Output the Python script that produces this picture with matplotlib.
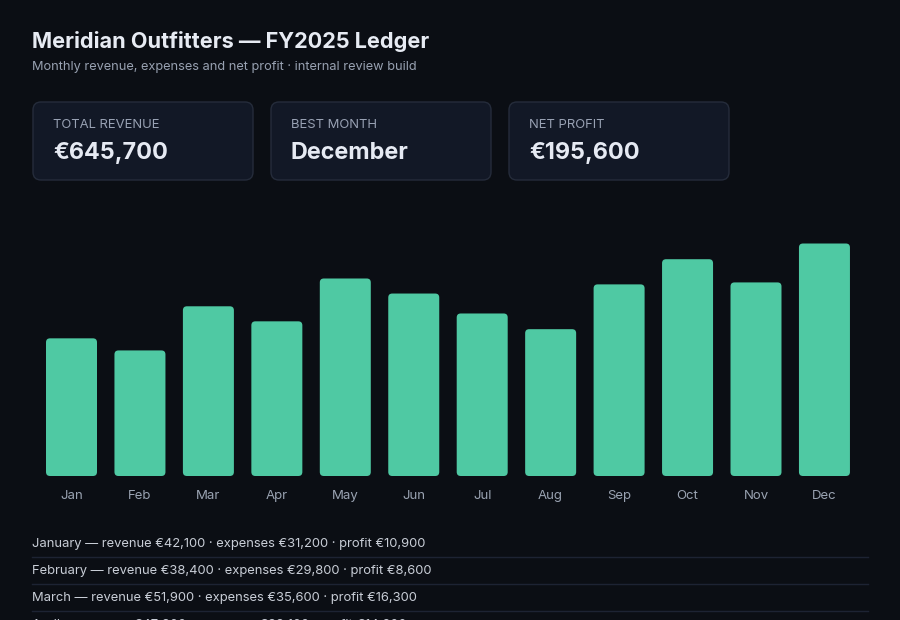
import matplotlib
matplotlib.use("Agg")
import matplotlib.pyplot as plt
from matplotlib.patches import FancyBboxPatch
from matplotlib.transforms import offset_copy

# ---------------- data ----------------
months_short = ["Jan", "Feb", "Mar", "Apr", "May", "Jun",
                "Jul", "Aug", "Sep", "Oct", "Nov", "Dec"]
months_long = ["January", "February", "March", "April", "May", "June",
               "July", "August", "September", "October", "November", "December"]
revenue = [42100, 38400, 51900, 47300, 60400, 55800,
           49700, 44900, 58600, 66300, 59200, 71100]
expenses = [31200, 29800, 35600, 33100, 41200, 39400,
            36000, 33500, 40800, 44700, 41300, 43500]
card_labels = ["TOTAL REVENUE", "BEST MONTH", "NET PROFIT"]

title = "Meridian Outfitters \u2014 FY2025 Ledger"
subtitle = "Monthly revenue, expenses and net profit \u00b7 internal review build"

# ---------------- style ----------------
BG = "#0b0e14"
CARD_BG = "#121826"
CARD_EDGE = "#252c3b"
TITLE_C = "#e7ebf3"
SUB_C = "#98a1b1"
LABEL_C = "#98a1b3"
VALUE_C = "#e6eaf3"
BAR_C = "#4fc9a3"
TICK_C = "#9aa3b2"
ROW_C = "#c8cdd6"
SEP_C = "#1d2333"
FONT = ["Inter", "DejaVu Sans"]

W, H = 900, 620
fig = plt.figure(figsize=(W / 100, H / 100), dpi=100, facecolor=BG)

# overlay axes in pixel coordinates (top-left origin)
ov = fig.add_axes([0, 0, 1, 1], zorder=0)
ov.set_xlim(0, W)
ov.set_ylim(H, 0)
ov.axis("off")
ov.set_facecolor(BG)

ov.text(32, 41, title, fontsize=15.6, fontweight="bold", color=TITLE_C,
        family=FONT, va="center", ha="left")
ov.text(32, 67, subtitle, fontsize=9.2, color=SUB_C,
        family=FONT, va="center", ha="left")

# KPI cards
total_rev = sum(revenue)
profits = [r - e for r, e in zip(revenue, expenses)]
total_profit = sum(profits)
best = months_long[max(range(len(revenue)), key=lambda i: revenue[i])]
card_values = [f"\u20ac{total_rev:,}", best, f"\u20ac{total_profit:,}"]

card_x = [33, 271, 509]
card_w, card_h, card_y = 220, 78, 102
for x, lab, val in zip(card_x, card_labels, card_values):
    p = FancyBboxPatch((x, card_y), card_w, card_h,
                       boxstyle="round,pad=0,rounding_size=8",
                       facecolor=CARD_BG, edgecolor=CARD_EDGE, linewidth=1)
    ov.add_patch(p)
    ov.text(x + 20, card_y + 23, lab,
            fontsize=9.4, color=LABEL_C, family=FONT, va="center", ha="left")
    ov.text(x + 20, card_y + 51, val, fontsize=16.8, fontweight="bold",
            color=VALUE_C, family=FONT, va="center", ha="left")

# table rows
row_y0 = 544
row_step = 27
for i, (m, r, e) in enumerate(zip(months_long, revenue, expenses)):
    y = row_y0 + i * row_step
    if y > H + 20:
        break
    ov.text(32, y, f"{m} \u2014 revenue \u20ac{r:,} \u00b7 expenses \u20ac{e:,} \u00b7 profit \u20ac{r - e:,}",
            fontsize=9.35, color=ROW_C, family=FONT, va="center", ha="left")
    ov.plot([32, 868], [y + 13, y + 13], color=SEP_C, lw=1)

# ---------------- bar chart ----------------
base_px, top_px = 476, 210
px_per_unit_y = 3.27 / 1000
ax = fig.add_axes([0, 1 - base_px / H, 1, (base_px - top_px) / H], zorder=1)
ax.set_facecolor("none")
pitch = 68.45
c0 = 71.5
ax.set_xlim(-c0 / pitch, (W - c0) / pitch)
ax.set_ylim(0, (base_px - top_px) / px_per_unit_y)
for s in ax.spines.values():
    s.set_visible(False)
ax.set_yticks([])
ax.set_xticks([])

bw = 0.745
x_per_px = 1 / pitch
y_per_px = 1 / px_per_unit_y
bars = ax.bar(range(len(revenue)), revenue, width=bw, color=BAR_C)
for b in bars:
    b.set_visible(False)
    fp = FancyBboxPatch((b.get_x(), 0), b.get_width(), b.get_height(),
                        boxstyle=f"round,pad=0,rounding_size={4 * x_per_px}",
                        mutation_aspect=y_per_px / x_per_px,
                        facecolor=BAR_C, edgecolor="none")
    ax.add_patch(fp)

# month labels on a common baseline below the bars
lab_tr = offset_copy(ax.transData, fig=fig, x=0, y=-23, units="dots")
for i, m in enumerate(months_short):
    ax.text(i, 0, m, transform=lab_tr, fontsize=9.5, color=TICK_C,
            family=FONT, ha="center", va="baseline", clip_on=False)

fig.savefig("out.png", dpi=100, facecolor=BG)
